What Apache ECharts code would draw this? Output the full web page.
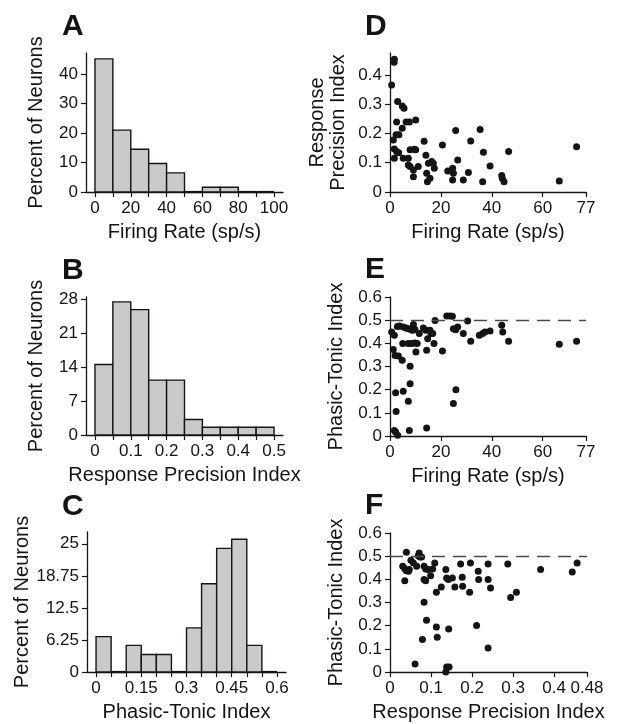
<!DOCTYPE html>
<html>
<head>
<meta charset="utf-8">
<script src="https://cdn.jsdelivr.net/npm/echarts@6/dist/echarts.min.js"></script>
<style>
  html, body { margin: 0; padding: 0; background: #fff; }
  #fig { width: 622px; height: 724px; }
</style>
</head>
<body>
<div id="fig"></div>
<script>
// histogram bin edges and heights (percent of neurons)
var rateEdges = [0, 10, 20, 30, 40, 50, 60, 70, 80, 90, 100];
var rateHist = [45.2, 21.0, 14.5, 9.7, 6.5, 0, 1.6, 1.6, 0, 0];

var precEdges = [0, 0.05, 0.1, 0.15, 0.2, 0.25, 0.3, 0.35, 0.4, 0.45, 0.5];
var precHist = [14.5, 27.4, 25.8, 11.3, 11.3, 3.2, 1.6, 1.6, 1.6, 1.6];

var ptiEdges = [0, 0.05, 0.1, 0.15, 0.2, 0.25, 0.3, 0.35, 0.4, 0.45, 0.5, 0.55, 0.6];
var ptiHist = [6.9, 0, 5.2, 3.4, 3.4, 0, 8.6, 17.2, 24.1, 25.9, 5.2, 0];

// scatter data: [firing rate, response precision index]
var ratePrec = [
  [1.7, 0.454], [1.6, 0.443], [0.65, 0.366], [3.0, 0.309], [4.8, 0.294], [5.5, 0.286],
  [2.6, 0.239], [6.3, 0.239], [7.6, 0.239], [10.1, 0.246], [4.8, 0.218], [3.5, 0.196],
  [2.4, 0.196], [1.3, 0.178], [1.7, 0.147], [2.6, 0.138], [3.4, 0.134], [1.7, 0.115],
  [5.2, 0.115], [7.2, 0.115], [7.9, 0.144], [9.6, 0.146], [10.1, 0.144], [7.2, 0.092],
  [7.9, 0.087], [9.2, 0.075], [9.2, 0.052], [11.1, 0.087], [13.4, 0.173], [14.1, 0.126],
  [14.4, 0.064], [14.7, 0.035], [15.1, 0.098], [16.4, 0.104], [17.0, 0.098], [17.4, 0.081],
  [15.7, 0.047], [20.6, 0.161], [22.7, 0.072], [24.6, 0.081], [24.9, 0.064], [24.6, 0.041],
  [25.8, 0.210], [26.6, 0.109], [28.8, 0.041], [30.8, 0.067], [31.7, 0.174], [35.4, 0.214],
  [36.7, 0.136], [36.4, 0.035], [39.3, 0.089], [43.9, 0.056], [44.1, 0.047], [44.8, 0.035],
  [46.6, 0.138], [66.5, 0.038], [73.3, 0.155]
];

// [firing rate, phasic-tonic index]
var ratePti = [
  [0.65, 0.449], [1.7, 0.435], [2.9, 0.473], [3.7, 0.475], [5.2, 0.47], [6.3, 0.466],
  [7.2, 0.463], [8.3, 0.459], [9.2, 0.481], [8.9, 0.456], [9.8, 0.46], [1.3, 0.373],
  [2.0, 0.348], [3.3, 0.345], [4.8, 0.327], [5.0, 0.399], [7.2, 0.399], [8.5, 0.399],
  [9.8, 0.401], [10.7, 0.399], [10.2, 0.363], [11.5, 0.442], [13.1, 0.466], [14.1, 0.456],
  [14.8, 0.42], [15.7, 0.456], [16.8, 0.442], [16.1, 0.442], [17.3, 0.399], [17.7, 0.499],
  [14.4, 0.37], [20.6, 0.367], [7.9, 0.301], [7.9, 0.226], [2.2, 0.187], [5.2, 0.193],
  [7.2, 0.15], [2.4, 0.106], [1.7, 0.024], [2.2, 0.017], [3.0, 0.003], [7.6, 0.024],
  [14.4, 0.035], [22.3, 0.518], [23.6, 0.518], [24.5, 0.517], [24.9, 0.463], [25.8, 0.459],
  [26.6, 0.47], [28.8, 0.442], [30.5, 0.496], [31.7, 0.409], [24.9, 0.14], [25.9, 0.2],
  [35.1, 0.435], [36.4, 0.442], [37.3, 0.449], [39.3, 0.453], [43.9, 0.478], [44.3, 0.449],
  [46.6, 0.409], [66.5, 0.396], [73.3, 0.409]
];

// [response precision index, phasic-tonic index]
var precPti = [
  [0.031, 0.456], [0.040, 0.517], [0.036, 0.446], [0.040, 0.437], [0.047, 0.442], [0.045, 0.435],
  [0.051, 0.482], [0.057, 0.47], [0.036, 0.394], [0.065, 0.456], [0.069, 0.502], [0.071, 0.514],
  [0.073, 0.496], [0.077, 0.496], [0.083, 0.456], [0.087, 0.445], [0.093, 0.442], [0.099, 0.416],
  [0.104, 0.445], [0.109, 0.47], [0.083, 0.399], [0.087, 0.394], [0.113, 0.344], [0.125, 0.367],
  [0.083, 0.301], [0.089, 0.223], [0.079, 0.14], [0.113, 0.194], [0.115, 0.15], [0.061, 0.035],
  [0.136, 0.442], [0.138, 0.406], [0.142, 0.399], [0.152, 0.406], [0.158, 0.367], [0.143, 0.186],
  [0.138, 0.022], [0.144, 0.022], [0.136, 0.0], [0.172, 0.466], [0.176, 0.409], [0.177, 0.37],
  [0.194, 0.344], [0.196, 0.47], [0.211, 0.201], [0.215, 0.435], [0.216, 0.399], [0.239, 0.466],
  [0.239, 0.399], [0.245, 0.363], [0.239, 0.104], [0.287, 0.466], [0.294, 0.322], [0.308, 0.344],
  [0.367, 0.442], [0.444, 0.432], [0.456, 0.47]
];

var refLine = 0.5;

// ticks / labels
var rateTicksA = [0, 10, 20, 30, 40, 50, 60, 70, 80, 90, 100];
var rateLabelsA = [0, 20, 40, 60, 80, 100];
var pctTicksA = [0, 10, 20, 30, 40];
var precLabelsB = [0, 0.1, 0.2, 0.3, 0.4, 0.5];
var pctTicksB = [0, 7, 14, 21, 28];
var ptiLabelsC = [0, 0.15, 0.3, 0.45, 0.6];
var pctTicksC = [0, 6.25, 12.5, 18.75, 25];
var rateTicksD = [0, 20, 40, 60, 77];
var precTicksD = [0, 0.1, 0.2, 0.3, 0.4];
var ptiTicks = [0, 0.1, 0.2, 0.3, 0.4, 0.5, 0.6];
var precTicksF = [0, 0.1, 0.2, 0.3, 0.4, 0.48];

var FONT = 'Liberation Sans, Arial, sans-serif';
var INK = '#141414';

function toBins(edges, vals) {
  var out = [];
  for (var i = 0; i < vals.length; i++) out.push([edges[i], edges[i + 1], vals[i]]);
  return out;
}

function histItem(params, api) {
  var p0 = api.coord([api.value(0), 0]);
  var p1 = api.coord([api.value(1), api.value(2)]);
  if (api.value(2) === 0) {
    // empty bin: only its outline along the axis
    return {
      type: 'line',
      shape: { x1: p0[0], y1: p0[1], x2: p1[0], y2: p0[1] },
      style: { stroke: INK, lineWidth: 2.2 }
    };
  }
  return {
    type: 'rect',
    shape: { x: p0[0], y: p1[1], width: p1[0] - p0[0], height: p0[1] - p1[1] },
    style: { fill: '#c8cacc', stroke: INK, lineWidth: 1.4 }
  };
}

function axisBase(extra) {
  var a = {
    type: 'value',
    axisLine: { show: true, onZero: false, lineStyle: { color: INK, width: 1.3 } },
    splitLine: { show: false },
    nameLocation: 'middle'
  };
  for (var k in extra) a[k] = extra[k];
  return a;
}

function xAx(grid, min, max, ticks, labels, name, fmt) {
  return axisBase({
    gridIndex: grid, min: min, max: max, name: name, nameGap: 30,
    axisTick: { show: true, length: 5, customValues: ticks, lineStyle: { color: INK, width: 1.2 } },
    axisLabel: { color: INK, fontFamily: FONT, fontSize: 17, margin: 8, customValues: labels, formatter: fmt },
    nameTextStyle: { color: INK, fontFamily: FONT, fontSize: 20 }
  });
}

function yAx(grid, min, max, ticks, name, gap, fmt) {
  return axisBase({
    gridIndex: grid, min: min, max: max, name: name, nameGap: gap, nameRotate: 90,
    axisTick: { show: true, length: 5, customValues: ticks, lineStyle: { color: INK, width: 1.2 } },
    axisLabel: { color: INK, fontFamily: FONT, fontSize: 17, margin: 8, customValues: ticks, formatter: fmt },
    nameTextStyle: { color: INK, fontFamily: FONT, fontSize: 20, lineHeight: 21 }
  });
}

var plain = function (v) { return String(+v.toFixed(2)); };

function letter(t, left, top) {
  return { text: t, left: left, top: top, padding: 0,
    textStyle: { fontFamily: FONT, fontWeight: 'bold', fontSize: 30, color: INK } };
}

var chart = echarts.init(document.getElementById('fig'), null, { renderer: 'canvas' });

var dash = {
  silent: true, symbol: 'none', label: { show: false },
  lineStyle: { color: '#4a4a4a', width: 1.4, type: [13, 8] },
  data: [{ yAxis: refLine }]
};

var dot = { color: INK, opacity: 1, borderWidth: 0 };

var option = {
  backgroundColor: '#fff',
  animation: false,
  title: [
    letter('A', 62, 12), letter('D', 365, 12),
    letter('B', 62, 256), letter('E', 365, 255),
    letter('C', 62, 492), letter('F', 365, 491)
  ],
  grid: [
    { left: 86, top: 53, width: 197, height: 139, outerBoundsMode: 'none' },
    { left: 86, top: 297, width: 197, height: 138, outerBoundsMode: 'none' },
    { left: 87, top: 532, width: 199, height: 140, outerBoundsMode: 'none' },
    { left: 390, top: 53, width: 196, height: 139, outerBoundsMode: 'none' },
    { left: 390, top: 297, width: 196, height: 139, outerBoundsMode: 'none' },
    { left: 390, top: 533, width: 197, height: 139, outerBoundsMode: 'none' }
  ],
  xAxis: [
    xAx(0, -5, 105, rateTicksA, rateLabelsA, 'Firing Rate (sp/s)', plain),
    xAx(1, -0.025, 0.525, precEdges, precLabelsB, 'Response Precision Index', plain),
    xAx(2, -0.03, 0.63, ptiEdges, ptiLabelsC, 'Phasic-Tonic Index', plain),
    xAx(3, 0, 77, rateTicksD, rateTicksD, 'Firing Rate (sp/s)', plain),
    xAx(4, 0, 77, rateTicksD, rateTicksD, 'Firing Rate (sp/s)', plain),
    xAx(5, 0, 0.48, precTicksF, precTicksF, 'Response Precision Index', plain)
  ],
  yAxis: [
    yAx(0, 0, 47.2, pctTicksA, 'Percent of Neurons', 39, plain),
    yAx(1, 0, 28.4, pctTicksB, 'Percent of Neurons', 39, plain),
    yAx(2, 0, 27.3, pctTicksC, 'Percent of Neurons', 53, plain),
    yAx(3, 0, 0.475, precTicksD, 'Response\nPrecision Index', 41, plain),
    yAx(4, 0, 0.6, ptiTicks, 'Phasic-Tonic Index', 43, plain),
    yAx(5, 0, 0.6, ptiTicks, 'Phasic-Tonic Index', 43, plain)
  ],
  series: [
    { type: 'custom', xAxisIndex: 0, yAxisIndex: 0, renderItem: histItem, data: toBins(rateEdges, rateHist), encode: { x: [0, 1], y: 2 } },
    { type: 'custom', xAxisIndex: 1, yAxisIndex: 1, renderItem: histItem, data: toBins(precEdges, precHist), encode: { x: [0, 1], y: 2 } },
    { type: 'custom', xAxisIndex: 2, yAxisIndex: 2, renderItem: histItem, data: toBins(ptiEdges, ptiHist), encode: { x: [0, 1], y: 2 } },
    { type: 'scatter', xAxisIndex: 3, yAxisIndex: 3, data: ratePrec, symbolSize: 7, itemStyle: dot },
    { type: 'scatter', xAxisIndex: 4, yAxisIndex: 4, data: ratePti, symbolSize: 7, itemStyle: dot, markLine: dash },
    { type: 'scatter', xAxisIndex: 5, yAxisIndex: 5, data: precPti, symbolSize: 7, itemStyle: dot, markLine: dash }
  ]
};

chart.setOption(option);
</script>
</body>
</html>
